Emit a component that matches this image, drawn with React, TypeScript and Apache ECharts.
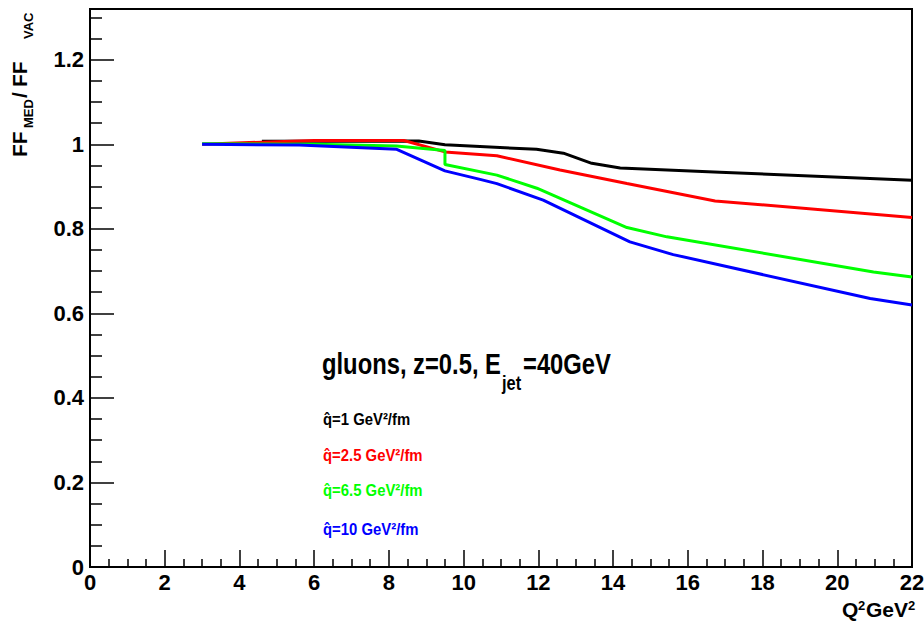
import React, { useEffect, useRef } from "react";
import * as echarts from "echarts";

// ---- data ----
const xTicks = [0, 2, 4, 6, 8, 10, 12, 14, 16, 18, 20, 22];
const yTickLabels = ["0", "0.2", "0.4", "0.6", "0.8", "1", "1.2"];

const q1X = [4.6, 8.8, 9.5, 11.95, 12.67, 13.43, 14.19, 16.86, 22];
const q1Y = [1.007, 1.008, 0.999, 0.988, 0.979, 0.955, 0.944, 0.934, 0.915];

const q25X = [3, 4.6, 6, 8.4, 9.5, 10.89, 12.58, 14.37, 16.73, 22];
const q25Y = [1.0, 1.005, 1.009, 1.009, 0.982, 0.973, 0.939, 0.907, 0.866, 0.827];

const q65X = [3, 6, 8.2, 9.5, 9.5, 10.89, 11.96, 14.37, 15.44, 20.97, 22];
const q65Y = [1.001, 1.0, 0.996, 0.985, 0.952, 0.927, 0.896, 0.803, 0.781, 0.698, 0.686];

const q10X = [3, 5.6, 8.21, 9.5, 10.44, 10.89, 12.13, 14.45, 15.61, 20.88, 22];
const q10Y = [1.0, 0.998, 0.988, 0.937, 0.917, 0.907, 0.868, 0.769, 0.739, 0.635, 0.62];

const seriesNames = ["q̂=1 GeV²/fm", "q̂=2.5 GeV²/fm", "q̂=6.5 GeV²/fm", "q̂=10 GeV²/fm"];
const seriesColors = ["#000000", "#ff0000", "#00ff00", "#0000ff"];

const pair = (xs: number[], ys: number[]) => xs.map((x, i) => [x, ys[i]]);

const SANS = '"Liberation Sans", Arial, sans-serif';

// place text by its alphabetic baseline (zrender centres text on y with verticalAlign middle)
const txt = (
  text: string,
  x: number,
  baseline: number,
  size: number,
  color: string,
  extra: any = {}
) => {
  const { align, ...rest } = extra;
  return {
    type: "text",
    x,
    y: baseline - 0.36 * size,
    ...rest,
    style: {
      text,
      font: `bold ${size}px ${SANS}`,
      fill: color,
      verticalAlign: "middle",
      textAlign: align || "left",
    },
  };
};

export default function App() {
  const ref = useRef<HTMLDivElement>(null);
  useEffect(() => {
    if (!ref.current) return;
    const chart = echarts.init(ref.current, null, { renderer: "svg" });
    const allData = [pair(q1X, q1Y), pair(q25X, q25Y), pair(q65X, q65Y), pair(q10X, q10Y)];
    const legendY = [425, 461, 496, 535];

    const option: any = {
      animation: false,
      backgroundColor: "#ffffff",
      grid: {
        left: 90,
        right: 12,
        top: 9,
        bottom: 64,
        show: true,
        borderColor: "#000",
        borderWidth: 2,
        containLabel: false,
        outerBoundsMode: "none",
      },
      xAxis: {
        type: "value",
        min: xTicks[0],
        max: xTicks[xTicks.length - 1],
        interval: 2,
        axisLine: { show: true, onZero: false, lineStyle: { color: "#000", width: 2 } },
        axisTick: { show: true, inside: true, length: 17, lineStyle: { color: "#000", width: 1.5 } },
        minorTick: { show: true, splitNumber: 4, length: 8, lineStyle: { color: "#000", width: 1.5 } },
        splitLine: { show: false },
        axisLabel: {
          margin: 4,
          color: "#000",
          fontFamily: SANS,
          fontWeight: "bold",
          fontSize: 22,
          showMinLabel: true,
          showMaxLabel: true,
        },
      },
      yAxis: {
        type: "value",
        min: 0,
        max: 1.32,
        interval: 0.2,
        axisLine: { show: true, onZero: false, lineStyle: { color: "#000", width: 2 } },
        axisTick: { show: true, inside: true, length: 24, lineStyle: { color: "#000", width: 1.5 } },
        minorTick: { show: true, splitNumber: 4, length: 12, lineStyle: { color: "#000", width: 1.5 } },
        splitLine: { show: false },
        axisLabel: {
          margin: 6,
          color: "#000",
          fontFamily: SANS,
          fontWeight: "bold",
          fontSize: 22,
          showMaxLabel: false,
          formatter: (v: number) => {
            const idx = Math.round(v / 0.2);
            return Math.abs(idx * 0.2 - v) < 1e-6 && yTickLabels[idx] !== undefined ? yTickLabels[idx] : "";
          },
        },
      },
      series: allData.map((d, i) => ({
        type: "line",
        name: seriesNames[i],
        data: d,
        showSymbol: false,
        symbol: "none",
        lineStyle: { color: seriesColors[i], width: 3 },
        itemStyle: { color: seriesColors[i] },
        z: 2 + i,
      })),
      graphic: [
        // y-axis title, rotated to read bottom-to-top
        {
          type: "group",
          x: 27,
          y: 157,
          rotation: Math.PI / 2,
          children: [
            txt("FF", 0, 0, 21, "#000"),
            txt("MED", 29, 6, 13, "#000"),
            txt("/", 59, 0, 21, "#000"),
            txt("FF", 70, 0, 21, "#000"),
            txt("VAC", 118, 6, 13, "#000"),
          ],
        },
        // x-axis title  Q^2 GeV^2
        txt("Q", 842, 617, 21, "#000"),
        txt("2", 858, 610, 13, "#000"),
        txt("GeV", 866, 617, 21, "#000"),
        txt("2", 908, 610, 13, "#000"),
        // annotation
        txt("gluons, z=0.5, E", 322, 375, 29, "#000", { scaleX: 0.82 }),
        txt("jet", 502, 390, 20, "#000", { scaleX: 0.82 }),
        txt("=40GeV", 523, 375, 29, "#000", { scaleX: 0.82 }),
        ...seriesNames.map((n, i) => txt(n, 323, legendY[i], 16, seriesColors[i], { scaleX: 0.93 })),
      ],
    };
    chart.setOption(option);
    return () => chart.dispose();
  }, []);
  return (
    <div
      ref={ref}
      style={{ position: "fixed", left: 0, top: 0, width: 924, height: 631, background: "#fff" }}
    />
  );
}
